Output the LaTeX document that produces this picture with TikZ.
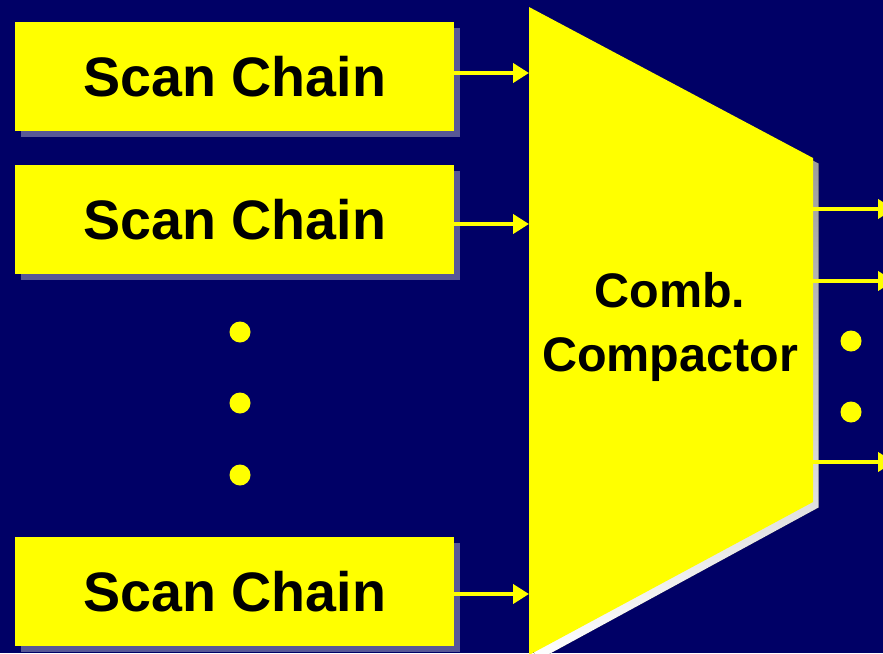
\documentclass[tikz,border=0pt]{standalone}
\usepackage{fontspec}
\setmainfont{Liberation Sans}
\usetikzlibrary{arrows.meta,shadows}
\definecolor{navy}{RGB}{0,0,102}
\definecolor{chip}{RGB}{255,255,0}
\definecolor{shade}{RGB}{88,88,150}
\begin{document}
\begin{tikzpicture}[x=1pt,y=-1pt,
  chainbox/.style={fill=chip, draw=none, minimum width=439pt, minimum height=109pt,
    inner sep=0pt, anchor=north west,
    font=\fontsize{55.6}{60}\selectfont\bfseries,
    drop shadow={shadow xshift=5.5pt, shadow yshift=-5.5pt, fill=shade, opacity=1}},
  link/.style={draw=chip, line width=4pt, -{Triangle[length=16pt,width=19pt]}},
  dotmark/.style={circle, fill=chip, minimum size=21pt, inner sep=0pt}]
  % backdrop and frame
  \fill[navy] (0,0) rectangle (883,653);
  \useasboundingbox (0,0) rectangle (883,653);
  \clip (0,0) rectangle (883,653);

  % scan chains
  \node[chainbox] (sc1) at (15,22) {Scan Chain};
  \node[chainbox] (sc2) at (15,165) {Scan Chain};
  \node[chainbox] (sc3) at (15,537) {Scan Chain};

  % compactor outline with its shadow
  \fill[shade] (534.5,12.5) -- (818.5,163.5) -- (818.5,507.5) -- (534.5,662) -- cycle;
  \fill[chip] (529,7) -- (813,158) -- (813,502) -- (529,655) -- cycle;
  \node[inner sep=0pt, align=center, font=\fontsize{48.5}{64}\selectfont\bfseries]
    (comp) at (670,327) {Comb.\\Compactor};

  % inputs into the compactor
  \coordinate (in1) at (529,73);
  \coordinate (in2) at (529,224);
  \coordinate (in3) at (529,594);
  \draw[link] (sc1.east |- in1) -- (in1);
  \draw[link] (sc2.east |- in2) -- (in2);
  \draw[link] (sc3.east |- in3) -- (in3);

  % outputs
  \coordinate (o1s) at (813,209);
  \coordinate (o2s) at (813,281);
  \coordinate (o3s) at (813,462);
  \coordinate (o1e) at (894,209);
  \coordinate (o2e) at (894,281);
  \coordinate (o3e) at (894,462);
  \draw[link] (o1s) -- (o1e);
  \draw[link] (o2s) -- (o2e);
  \draw[link] (o3s) -- (o3e);

  % ellipsis dots
  \node[dotmark] (d1) at (240,332) {};
  \node[dotmark] (d2) at (240,403) {};
  \node[dotmark] (d3) at (240,475) {};
  \node[dotmark] (d4) at (851,341) {};
  \node[dotmark] (d5) at (851,412) {};
\end{tikzpicture}
\end{document}
